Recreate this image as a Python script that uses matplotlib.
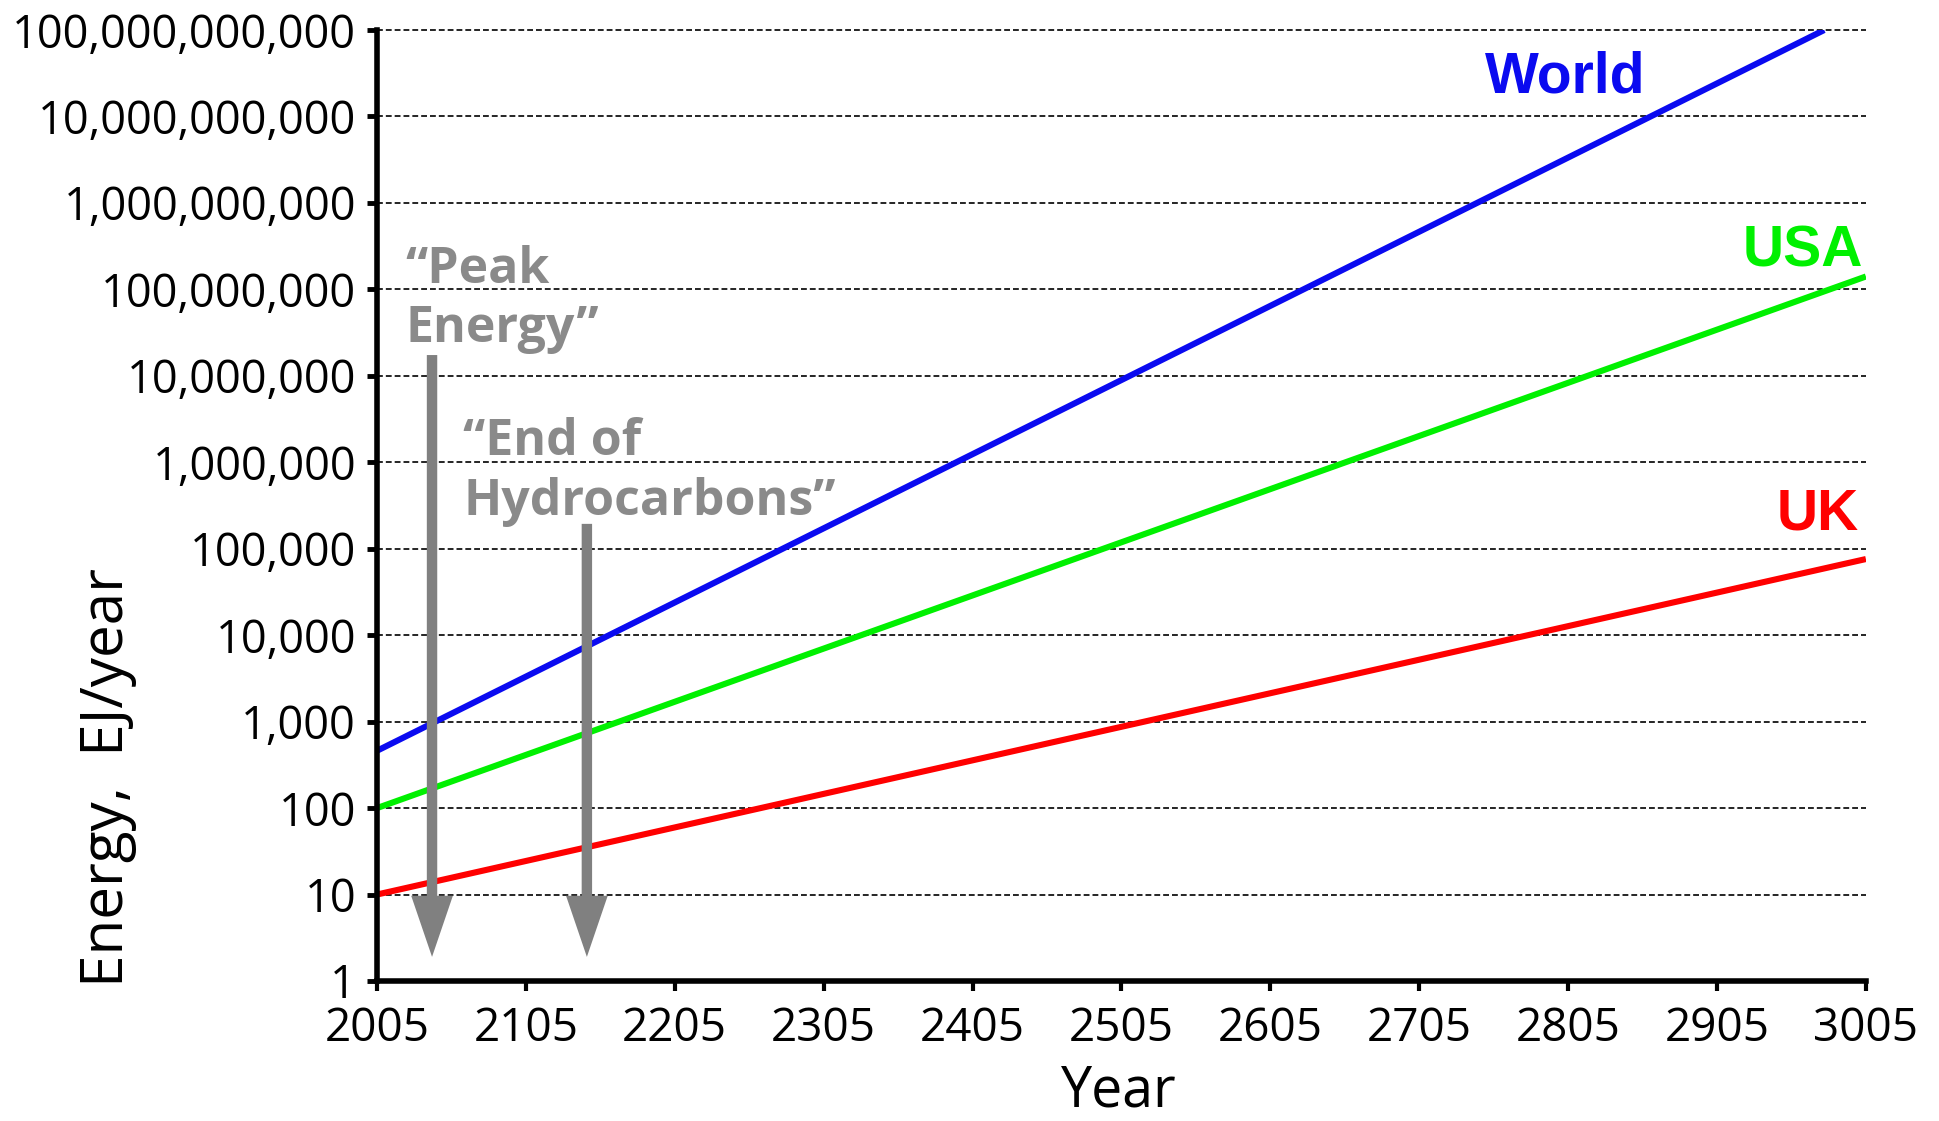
import matplotlib
matplotlib.use("Agg")
import matplotlib.pyplot as plt
from matplotlib.ticker import FuncFormatter, FixedLocator

plt.rcParams['font.family'] = ['Open Sans', 'DejaVu Sans']

# series (straight lines on a log axis, start and end values)
years_world = [2005, 2977]
energy_world = [460, 1e11]
years_usa = [2005, 3005]
energy_usa = [100, 1.41e8]
years_uk = [2005, 3005]
energy_uk = [10, 7.6e4]

x_ticks = list(range(2005, 3006, 100))
y_ticks = [10 ** k for k in range(0, 12)]

# annotations: arrows pointing down to ~2
arrow_years = [2042, 2146]
arrow_tops = [1.74e7, 1.94e5]
arrow_tip = 1.9
notes = ['\u201cPeak\nEnergy\u201d', '\u201cEnd of\nHydrocarbons\u201d']
note_x = [2024, 2063]
note_y = [2.46e7, 2.46e5]   # baseline of the last line

fig = plt.figure(figsize=(19.4, 11.21), dpi=100)
ax = fig.add_axes([0.1943, 0.1249, 0.7675, 0.8483])

ax.plot(years_world, energy_world, color='#0a0af0', lw=4.4, zorder=3, solid_capstyle='butt')
ax.plot(years_usa, energy_usa, color='#00f000', lw=4.4, zorder=3, solid_capstyle='butt')
ax.plot(years_uk, energy_uk, color='#ff0000', lw=4.4, zorder=3, solid_capstyle='butt')

ax.set_yscale('log')
ax.set_xlim(2005, 3005)
ax.set_ylim(1, 1e11)
ax.xaxis.set_major_locator(FixedLocator(x_ticks))
ax.yaxis.set_major_locator(FixedLocator(y_ticks))
ax.yaxis.set_minor_locator(FixedLocator([]))
ax.yaxis.set_major_formatter(FuncFormatter(lambda v, p: f'{int(round(v)):,}'))

for g in y_ticks[1:]:
    ax.axhline(g, color='black', lw=1.2, dashes=(3.5, 1.8), zorder=1, clip_on=False)

for s in ['top', 'right']:
    ax.spines[s].set_visible(False)
for s in ['left', 'bottom']:
    ax.spines[s].set_linewidth(4)
    ax.spines[s].set_zorder(4)

ax.tick_params(axis='y', direction='out', length=7, width=3.5, labelsize=32.5, pad=8)
ax.tick_params(axis='x', direction='out', length=7, width=3, labelsize=33, pad=11)

ax.set_xlabel('Year', fontsize=40, va='baseline')
ax.xaxis.set_label_coords(0.498, -0.132)
ax.set_ylabel('Energy,  EJ/year', fontsize=42, va='center')
ax.yaxis.set_label_coords(-0.181, 0.2145)

ax.text(2803, 1.87e10, 'World', color='#0a0af0', fontsize=41, fontweight='bold',
        family='Liberation Sans', ha='center', va='baseline')
ax.text(3003, 1.86e8, 'USA', color='#00f000', fontsize=41, fontweight='bold',
        family='Liberation Sans', ha='right', va='baseline')
ax.text(3000, 1.69e5, 'UK', color='#ff0000', fontsize=41, fontweight='bold',
        family='Liberation Sans', ha='right', va='baseline')

for t, x, y in zip(notes, note_x, note_y):
    ax.text(x, y, t, color='#8a8a8a', fontsize=36, fontweight='bold',
            ha='left', va='baseline', linespacing=1.25, zorder=5)

for x, top in zip(arrow_years, arrow_tops):
    ax.annotate('', xy=(x, arrow_tip), xytext=(x, top),
                arrowprops=dict(arrowstyle='simple,head_length=44,head_width=30,tail_width=7.5',
                                mutation_scale=1, color='#808080', lw=0,
                                shrinkA=0, shrinkB=0),
                zorder=5)

fig.savefig('out.png', dpi=100, facecolor='white')
